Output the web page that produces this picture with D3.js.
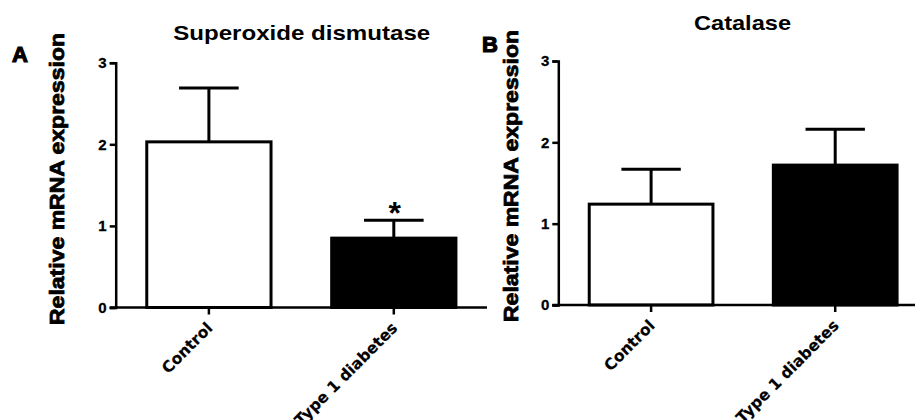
<!DOCTYPE html>
<html>
<head>
<meta charset="utf-8">
<script src="https://cdnjs.cloudflare.com/ajax/libs/d3/7.8.5/d3.min.js"></script>
<style>
  body { margin: 0; background: #fff; }
  text { font-family: Arial, "Liberation Sans", sans-serif; font-weight: bold; fill: #000; }
</style>
</head>
<body>
<div id="chart"></div>
<script>
var svgWidth = 915;
var svgHeight = 420;

// values
var categories = ["Control", "Type 1 diabetes"];
var sodMean = [2.03, 0.85];
var sodSem = [0.66, 0.22];
var sodSig = ["", "*"];
var catMean = [1.24, 1.72];
var catSem = [0.43, 0.44];
var catSig = ["", ""];
var yTicks = [0, 1, 2, 3];
var barFills = ["#fff", "#000"];

var panels = [
  { letter: "A", title: "Superoxide dismutase", mean: sodMean, sem: sodSem, sig: sodSig,
    x0: 115.7, x1: 487, yTop: 62.7, yBottom: 307.5,
    titleX: 301.7, titleY: 40, titleLen: 257, letterX: 12, letterY: 62,
    labelX: 64, labelY: 179 },
  { letter: "B", title: "Catalase", mean: catMean, sem: catSem, sig: catSig,
    x0: 558.3, x1: 928, yTop: 61, yBottom: 305,
    titleX: 742.5, titleY: 30, titleLen: 97, letterX: 482, letterY: 52,
    labelX: 517.5, labelY: 176 }
];

var svg = d3.select("#chart")
    .append("svg")
    .attr("width", svgWidth)
    .attr("height", svgHeight);

panels.forEach(function(p) {
    var g = svg.append("g");

    var xScale = d3.scaleBand()
      .domain(categories)
      .range([p.x0, p.x1])
      .paddingInner(0.328)
      .paddingOuter(0.168);
    var yScale = d3.scaleLinear()
      .domain([0, 3])
      .range([p.yBottom, p.yTop]);

    var rows = categories.map(function(c, i) {
      return { cat: c, mean: p.mean[i], sem: p.sem[i], sig: p.sig[i], fill: barFills[i] };
    });

    // bars
    g.selectAll("rect.bar")
      .data(rows)
      .enter()
      .append("rect")
      .attr("class", "bar")
      .attr("x", function(d) { return xScale(d.cat); })
      .attr("width", xScale.bandwidth())
      .attr("y", function(d) { return yScale(d.mean); })
      .attr("height", function(d) { return yScale(0) - yScale(d.mean); })
      .attr("fill", function(d) { return d.fill; })
      .attr("stroke", "#000")
      .attr("stroke-width", 3);

    // error bars (upper only)
    var capHalf = xScale.bandwidth() * 0.24;
    rows.forEach(function(d) {
      var cx = xScale(d.cat) + xScale.bandwidth() / 2;
      g.append("line")
        .attr("x1", cx).attr("x2", cx)
        .attr("y1", yScale(d.mean)).attr("y2", yScale(d.mean + d.sem))
        .attr("stroke", "#000").attr("stroke-width", 3);
      g.append("line")
        .attr("x1", cx - capHalf).attr("x2", cx + capHalf)
        .attr("y1", yScale(d.mean + d.sem)).attr("y2", yScale(d.mean + d.sem))
        .attr("stroke", "#000").attr("stroke-width", 3);
      if (d.sig) {
        g.append("text")
          .attr("x", cx + 1)
          .attr("y", yScale(d.mean + d.sem) + 4)
          .attr("text-anchor", "middle")
          .style("font-size", "32px")
          .text(d.sig);
      }
    });

    // axes
    var leftAxis = d3.axisLeft(yScale).tickValues(yTicks).tickSize(6).tickPadding(3).tickFormat(d3.format("d"));
    var bottomAxis = d3.axisBottom(xScale).tickSize(7).tickPadding(4);

    var yAx = g.append("g")
      .attr("transform", "translate(" + p.x0 + ",0)")
      .call(leftAxis);
    var xAx = g.append("g")
      .attr("transform", "translate(0," + p.yBottom + ")")
      .call(bottomAxis);

    [yAx, xAx].forEach(function(ax) {
      ax.attr("font-family", null).attr("font-size", null);
      ax.select(".domain").attr("stroke-width", 2.5);
      ax.selectAll(".tick line").attr("stroke-width", 2.5);
      ax.selectAll("text").style("font-size", "15px")
        .attr("stroke", "#000").attr("stroke-width", 0.3);
    });
    xAx.select(".domain").attr("d", "M" + (p.x0 - 6) + ",0H" + p.x1);

    xAx.selectAll(".tick text")
      .style("font-family", "'DejaVu Sans', sans-serif")
      .style("font-size", "15.5px")
      .attr("stroke-width", 0.2)
      .attr("text-anchor", "end")
      .attr("dy", null)
      .attr("x", -12)
      .attr("y", 18.5)
      .attr("transform", "rotate(-45)");

    // titles and labels
    g.append("text")
      .attr("x", p.titleX)
      .attr("y", p.titleY)
      .attr("text-anchor", "middle")
      .style("font-size", "21px")
      .attr("textLength", p.titleLen)
      .attr("lengthAdjust", "spacingAndGlyphs")
      .text(p.title);

    g.append("text")
      .attr("x", p.letterX)
      .attr("y", p.letterY)
      .style("font-size", "22px")
      .attr("stroke", "#000")
      .attr("stroke-width", 1.2)
      .text(p.letter);

    g.append("text")
      .attr("transform", "translate(" + p.labelX + "," + p.labelY + ") rotate(-90)")
      .attr("text-anchor", "middle")
      .style("font-size", "21px")
      .attr("stroke", "#000")
      .attr("stroke-width", 0.8)
      .attr("textLength", 292)
      .attr("lengthAdjust", "spacingAndGlyphs")
      .text("Relative mRNA expression");
});
</script>
</body>
</html>
